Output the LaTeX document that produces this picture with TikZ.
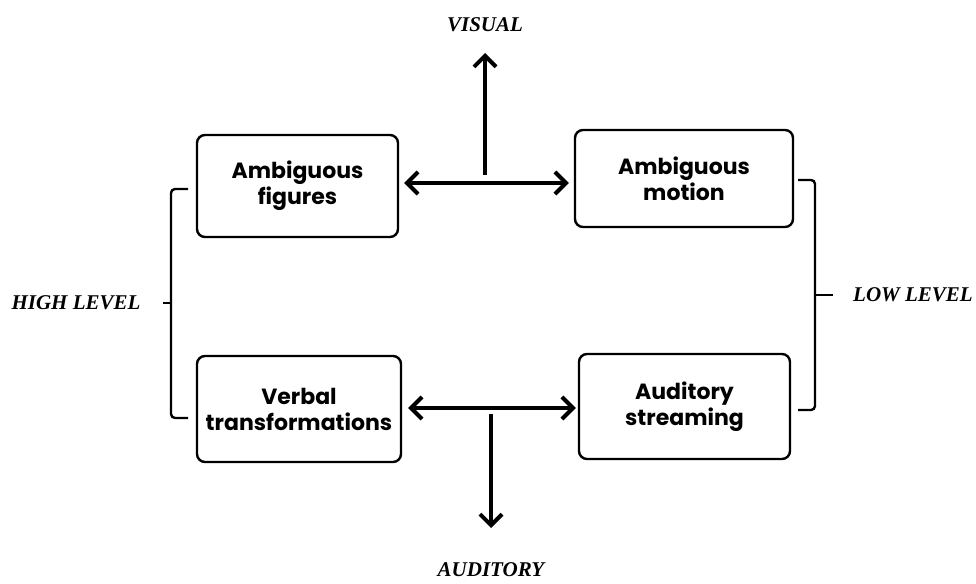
\documentclass[tikz,border=0pt]{standalone}
\usepackage{fontspec}
\setmainfont{Liberation Serif}
\newfontfamily\boxfont{Poppins}
\usetikzlibrary{arrows.meta}
\tikzset{
  box/.style={draw, line width=2.4pt, rounded corners=8pt, align=center,
    font=\boxfont\bfseries\fontsize{22}{26}\selectfont, inner sep=0pt},
  lab/.style={font=\bfseries\itshape\fontsize{21}{26}\selectfont, inner sep=0pt},
  dbl/.style={line width=4pt, {Straight Barb[length=11pt,width=22pt,line width=4pt]}-{Straight Barb[length=11pt,width=22pt,line width=4pt]}},
  one/.style={line width=4pt, -{Straight Barb[length=11pt,width=22pt,line width=4pt]}},
  brk/.style={line width=2.4pt, rounded corners=4pt}
}
\begin{document}
\begin{tikzpicture}[x=1pt,y=-1pt]
\useasboundingbox (0,0) rectangle (976,583);
\node[box, minimum width=201pt, minimum height=102pt] (af) at (297.5,186) {Ambiguous\\figures};
\node[box, minimum width=218pt, minimum height=97pt] (am) at (684,178.5) {Ambiguous\\motion};
\node[box, minimum width=204pt, minimum height=106pt] (vt) at (299,409) {Verbal\\transformations};
\node[box, minimum width=211pt, minimum height=105pt] (as) at (684.5,406.5) {Auditory\\streaming};

\node[lab] (visual) at (485,25) {VISUAL};
\node[lab] (auditory) at (491,570) {AUDITORY};
\node[lab] (high) at (76,303) {HIGH LEVEL};
\node[lab] (low) at (913,295) {LOW LEVEL};

% top (visual) connector
\coordinate (vh) at (485,183);
\coordinate (vbase) at (485,175);
\coordinate (vtop) at (485,53);
\draw[dbl] ([xshift=5pt]af.east |- vh) -- ([xshift=-5pt]am.west |- vh);
\draw[one] (vbase) -- (vtop);

% bottom (auditory) connector
\coordinate (ah) at (491,408);
\coordinate (abase) at (491,414);
\coordinate (abot) at (491,528);
\draw[dbl] ([xshift=6pt]vt.east |- ah) -- ([xshift=-2pt]as.west |- ah);
\draw[one] (abase) -- (abot);

% brackets
\coordinate (lt) at (188,189);
\coordinate (lb) at (188,418);
\coordinate (lm) at (172,303);
\coordinate (ltick) at (163,303);
\draw[brk] (lt) -- (171,189) -- (171,418) -- (lb);
\draw[line width=2.4pt] (lm) -- (ltick);

\coordinate (rt) at (798,180);
\coordinate (rb) at (798,410);
\coordinate (rm) at (814,295);
\coordinate (rtick) at (833,295);
\draw[brk] (rt) -- (815,180) -- (815,410) -- (rb);
\draw[line width=2.4pt] (rm) -- (rtick);
\end{tikzpicture}
\end{document}
